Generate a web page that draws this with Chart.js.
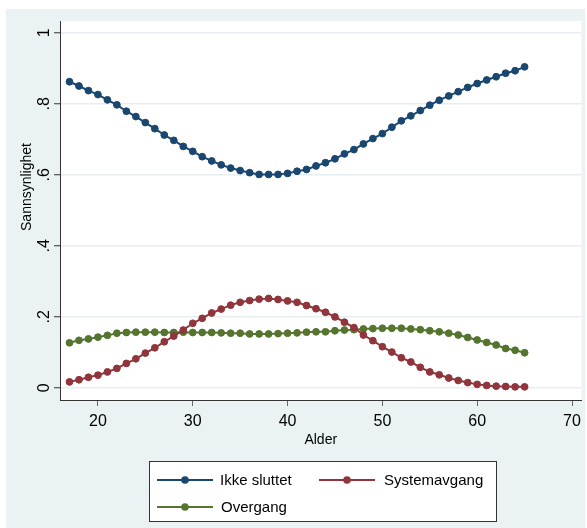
<!DOCTYPE html>
<html>
<head>
<meta charset="utf-8">
<script src="https://cdn.jsdelivr.net/npm/chart.js@4.4.1/dist/chart.umd.min.js"></script>
<style>
html,body{margin:0;padding:0;background:#ffffff;}
#wrap{width:587px;height:528px;position:relative;}
</style>
</head>
<body>
<div id="wrap"><canvas id="c"></canvas></div>
<script>
// ---- data ----
const ages = [17,18,19,20,21,22,23,24,25,26,27,28,29,30,31,32,33,34,35,36,37,38,39,40,41,
              42,43,44,45,46,47,48,49,50,51,52,53,54,55,56,57,58,59,60,61,62,63,64,65];
const ikkeSluttet = [0.862,0.850,0.837,0.826,0.811,0.797,0.779,0.764,0.747,0.730,0.712,0.697,0.680,0.666,0.651,0.639,0.628,0.619,0.612,0.606,0.601,0.601,0.601,0.604,0.610,
                     0.615,0.625,0.634,0.645,0.659,0.671,0.687,0.702,0.716,0.734,0.752,0.766,0.781,0.796,0.810,0.822,0.834,0.846,0.857,0.867,0.876,0.886,0.893,0.904];
const systemavgang = [0.017,0.023,0.030,0.036,0.045,0.055,0.069,0.082,0.098,0.113,0.130,0.146,0.163,0.182,0.196,0.211,0.222,0.233,0.241,0.246,0.250,0.252,0.249,0.245,0.241,
                      0.232,0.223,0.213,0.200,0.185,0.170,0.149,0.133,0.116,0.101,0.085,0.073,0.058,0.045,0.037,0.028,0.021,0.015,0.010,0.007,0.005,0.004,0.003,0.003];
const overgang = [0.127,0.134,0.138,0.143,0.148,0.154,0.156,0.157,0.157,0.157,0.156,0.156,0.157,0.156,0.156,0.156,0.155,0.154,0.154,0.152,0.152,0.152,0.153,0.154,0.155,
                  0.157,0.158,0.158,0.161,0.163,0.164,0.166,0.167,0.168,0.168,0.168,0.166,0.164,0.161,0.158,0.154,0.149,0.142,0.135,0.128,0.121,0.111,0.106,0.099];
const seriesNames = ['Ikke sluttet', 'Systemavgang', 'Overgang'];
const xTicks = [20, 30, 40, 50, 60, 70];
const yTicks = [0, 0.2, 0.4, 0.6, 0.8, 1];
const yTickLabels = ['0', '.2', '.4', '.6', '.8', '1'];
const xTitle = 'Alder';
const yTitle = 'Sannsynlighet';

// ---- styles ----
const FONT = "'Liberation Sans', Arial, sans-serif";
const colors = ['#1a476f', '#90353b', '#55752f'];
const seriesValues = [ikkeSluttet, systemavgang, overgang];

Chart.defaults.font.family = FONT;
Chart.defaults.color = '#000';

const bgPlugin = {
  id: 'bg',
  beforeDraw(chart) {
    const ctx = chart.ctx, a = chart.chartArea;
    ctx.save();
    ctx.fillStyle = '#ffffff';
    ctx.fillRect(0, 0, chart.width, chart.height);
    ctx.fillStyle = '#eaf2f3';
    ctx.fillRect(6, 9, 579, chart.height - 9);
    ctx.fillStyle = '#ffffff';
    ctx.fillRect(a.left, a.top, a.right - a.left, a.bottom - a.top);
    ctx.restore();
  }
};

const yLabelPlugin = {
  id: 'yLabels',
  afterDraw(chart) {
    const ctx = chart.ctx, ys = chart.scales.y;
    ctx.save();
    ctx.fillStyle = '#000';
    ctx.font = '16px ' + FONT;
    ctx.textAlign = 'center';
    ctx.textBaseline = 'alphabetic';
    yTicks.forEach((v, i) => {
      const py = ys.getPixelForValue(v);
      ctx.save();
      ctx.translate(48.5, py);
      ctx.rotate(-Math.PI / 2);
      ctx.fillText(yTickLabels[i], 0, 0);
      ctx.restore();
    });
    // y-axis title
    ctx.font = '14px ' + FONT;
    ctx.translate(30.5, 187);
    ctx.rotate(-Math.PI / 2);
    ctx.fillText(yTitle, 0, 0);
    ctx.restore();
  }
};

const legendPlugin = {
  id: 'boxLegend',
  afterDraw(chart) {
    const ctx = chart.ctx;
    ctx.save();
    ctx.fillStyle = '#ffffff';
    ctx.fillRect(149.5, 461.5, 347, 60);
    ctx.strokeStyle = '#333';
    ctx.lineWidth = 1;
    ctx.strokeRect(149.5, 461.5, 347, 60);
    const slots = [{x: 157, y: 480, tx: 220}, {x: 319, y: 480, tx: 384}, {x: 157, y: 507, tx: 221}];
    chart.data.datasets.forEach((ds, i) => {
      const s = slots[i];
      ctx.strokeStyle = ds.borderColor;
      ctx.lineWidth = 2;
      ctx.beginPath();
      ctx.moveTo(s.x, s.y);
      ctx.lineTo(s.x + 56, s.y);
      ctx.stroke();
      ctx.fillStyle = ds.borderColor;
      ctx.beginPath();
      ctx.arc(s.x + 28, s.y, 3.8, 0, Math.PI * 2);
      ctx.fill();
      ctx.fillStyle = '#000';
      ctx.font = '15px ' + FONT;
      ctx.textAlign = 'left';
      ctx.textBaseline = 'middle';
      ctx.fillText(ds.label, s.tx, s.y + 1);
    });
    ctx.restore();
  }
};

const datasets = seriesNames.map((name, k) => ({
  label: name,
  data: ages.map((a, i) => ({x: a, y: seriesValues[k][i]})),
  borderColor: colors[k],
  backgroundColor: colors[k],
  pointBackgroundColor: colors[k],
  pointBorderColor: colors[k],
  pointRadius: 3.4,
  pointBorderWidth: 1,
  borderWidth: 2,
  tension: 0,
  fill: false
}));

new Chart(document.getElementById('c'), {
  type: 'line',
  data: {datasets},
  options: {
    responsive: true,
    maintainAspectRatio: false,
    animation: false,
    layout: {padding: {left: 0, top: 21, right: 2, bottom: 78}},
    plugins: {legend: {display: false}, tooltip: {enabled: false}},
    scales: {
      x: {
        type: 'linear',
        position: 'bottom',
        min: 16, max: 71,
        afterFit(s) { s.height = 50; },
        afterBuildTicks(s) { s.ticks = xTicks.map(v => ({value: v})); },
        ticks: {font: {size: 16}, color: '#000', padding: 6, callback: v => String(v), maxRotation: 0},
        grid: {display: true, drawOnChartArea: false, drawTicks: true, tickLength: 6, tickColor: '#666', tickWidth: 1},
        border: {display: true, color: '#333', width: 1},
        title: {display: true, text: xTitle, font: {size: 14}, color: '#000', padding: {top: 0, bottom: 1}}
      },
      y: {
        type: 'linear',
        min: -0.034, max: 1.033,
        afterFit(s) { s.width = 60; },
        afterBuildTicks(s) { s.ticks = yTicks.map(v => ({value: v})); },
        ticks: {display: false},
        grid: {display: true, color: '#e6eef0', lineWidth: 1.5, drawTicks: true, tickLength: 6, tickColor: '#333', tickWidth: 1},
        border: {display: true, color: '#333', width: 1}
      }
    }
  },
  plugins: [bgPlugin, yLabelPlugin, legendPlugin]
});
</script>
</body>
</html>
